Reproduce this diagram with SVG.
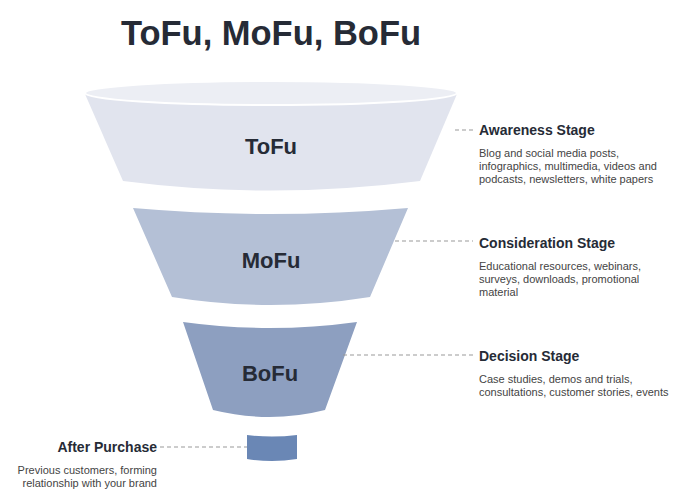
<svg xmlns="http://www.w3.org/2000/svg" width="700" height="504" viewBox="0 0 700 504">
<style>
.t{font-family:"Liberation Sans",Arial,sans-serif;fill:#262b36}
.h{font-size:14px;font-weight:bold}
.d{font-size:11px;fill:#444}
.n{font-size:22px;font-weight:bold;text-anchor:middle}
.c{stroke:#999;stroke-width:1;stroke-dasharray:4,3;fill:none}
</style>
<rect width="700" height="504" fill="#fff"/>
<text class="t" x="271" y="45" font-size="34.5" font-weight="bold" text-anchor="middle" fill="#333">ToFu, MoFu, BoFu</text>
<g id="tofu">
<path d="M85,94 L123,181 Q270,200 420,181 L457,94 Z" fill="#e1e4ee"/>
<ellipse cx="271" cy="93" rx="186" ry="12" fill="#eceef4" stroke="#fff" stroke-width="2"/>
<text class="t n" x="271" y="154">ToFu</text>
</g>
<g id="mofu">
<path d="M133,208 Q270,220 408,208 L370,297 Q270,313 172,297 Z" fill="#b4c0d6"/>
<text class="t n" x="271" y="268">MoFu</text>
</g>
<g id="bofu">
<path d="M183,322 Q270,334 357,322 L325,410 Q270,424 213,410 Z" fill="#8d9fc0"/>
<text class="t n" x="270" y="381">BoFu</text>
</g>
<g id="after">
<path d="M247,435 Q272,438 297,435 L297,459 Q272,463 247,459 Z" fill="#6a87b5"/>
</g>
<g id="connectors">
<path class="c" d="M455,130 H473"/>
<path class="c" d="M395,241 H473"/>
<path class="c" d="M343,355 H473"/>
<path class="c" d="M160,447 H247"/>
</g>
<g id="awareness">
<text class="t h" x="479" y="135">Awareness Stage</text>
<text class="t d" x="479" y="157">Blog and social media posts,</text>
<text class="t d" x="479" y="170">infographics, multimedia, videos and</text>
<text class="t d" x="479" y="183">podcasts, newsletters, white papers</text>
</g>
<g id="consideration">
<text class="t h" x="479" y="248">Consideration Stage</text>
<text class="t d" x="479" y="270">Educational resources, webinars,</text>
<text class="t d" x="479" y="283">surveys, downloads, promotional</text>
<text class="t d" x="479" y="296">material</text>
</g>
<g id="decision">
<text class="t h" x="479" y="361">Decision Stage</text>
<text class="t d" x="479" y="383">Case studies, demos and trials,</text>
<text class="t d" x="479" y="396">consultations, customer stories, events</text>
</g>
<g id="afterlabel">
<text class="t h" x="157" y="452" text-anchor="end">After Purchase</text>
<text class="t d" x="157" y="474" text-anchor="end">Previous customers, forming</text>
<text class="t d" x="157" y="487" text-anchor="end">relationship with your brand</text>
</g>
</svg>
